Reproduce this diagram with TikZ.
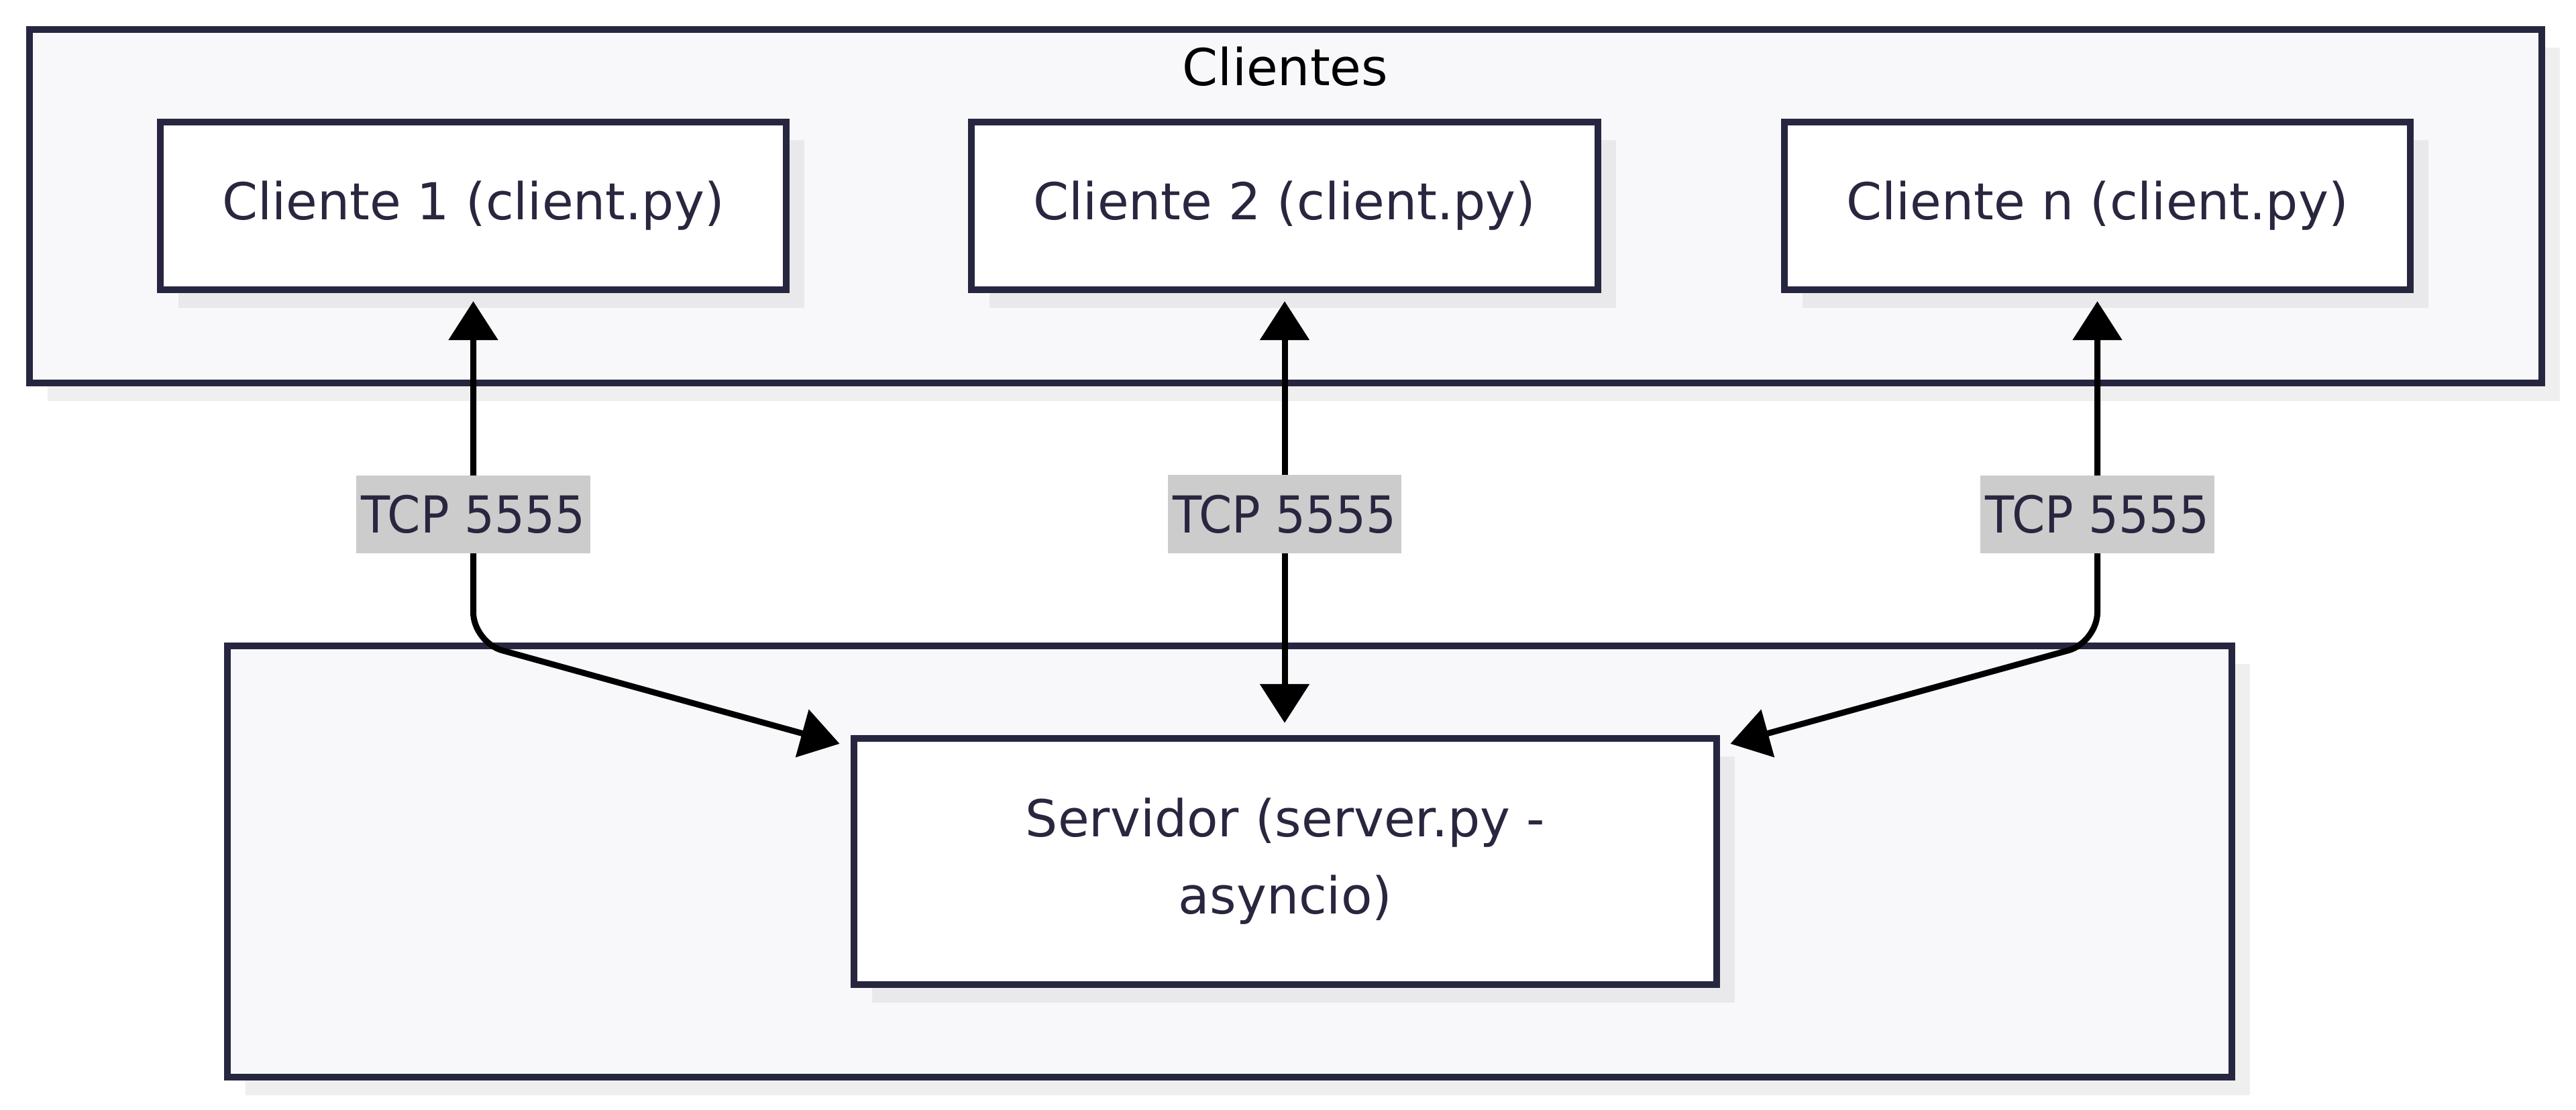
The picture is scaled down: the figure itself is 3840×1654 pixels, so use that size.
\documentclass[tikz,border=0pt]{standalone}
\usepackage{fontspec}
\setmainfont{DejaVu Sans}
\newfontfamily\tcpfont[FakeStretch=0.93]{DejaVu Sans}
\usetikzlibrary{calc,arrows.meta,shadows}

\definecolor{boxline}{HTML}{272640}
\definecolor{txt}{HTML}{2A2640}
\definecolor{grpfill}{HTML}{F8F8FA}
\definecolor{grpshadow}{HTML}{EFEFEF}
\definecolor{boxshadow}{HTML}{E9E9EC}
\definecolor{lblfill}{HTML}{CCCCCC}

\tikzset{
    cluster/.style={draw=boxline, line width=0.1cm, fill=grpfill,
        drop shadow={shadow xshift=0.27cm, shadow yshift=-0.27cm, fill=grpshadow, opacity=1}},
    proc/.style={draw=boxline, line width=0.1cm, fill=white, text=txt, align=center,
        drop shadow={shadow xshift=0.27cm, shadow yshift=-0.27cm, fill=boxshadow, opacity=1}},
    tcp/.style={fill=lblfill, text=txt, font=\tcpfont\fontsize{21.6}{26}\selectfont,
        sharp corners, inner sep=0pt, minimum width=3.48cm, minimum height=1.16cm},
    link/.style={line width=0.09cm, rounded corners=0.45cm,
        {Triangle[length=0.58cm,width=0.72cm]}-{Triangle[length=0.58cm,width=0.72cm]}}
}

\begin{document}
\begin{tikzpicture}[x=0.01cm, y=-0.01cm, font=\fontsize{21.6}{32.7}\selectfont]
    \useasboundingbox (0,0) rectangle (3840,1654);

    % groups
    \node [cluster, minimum width=37.43cm, minimum height=5.27cm] (cgrp) at (1916.5,307.5) {};
    \node [anchor=base, text=black] (ctitle) at (1916,127) {Clientes};
    \node [cluster, minimum width=29.86cm, minimum height=6.43cm] (sgrp) at (1833,1284.5) {};

    % processes
    \node [proc, minimum width=9.33cm, minimum height=2.5cm] (c1) at (705.5,307) {Cliente 1 (client.py)};
    \node [proc, minimum width=9.33cm, minimum height=2.5cm] (c2) at (1915,307) {Cliente 2 (client.py)};
    \node [proc, minimum width=9.33cm, minimum height=2.5cm] (cn) at (3126.5,307) {Cliente n (client.py)};
    \node [proc, minimum width=12.86cm, minimum height=3.67cm] (srv) at (1916,1284.5) {Servidor (server.py -\\asyncio)};

    % connections
    \draw [link, shorten <=0.12cm] (c1.south)
        -- node [tcp, pos=0.633] (t1) {TCP 5555} (c1.south |- sgrp.north)
        -- ($(srv.north west)+(-16,13)$);
    \draw [link, shorten <=0.12cm, shorten >=0.18cm] (c2.south)
        -- node [tcp, pos=0.5] (t2) {TCP 5555} (c2.south |- srv.north);
    \draw [link, shorten <=0.12cm] (cn.south)
        -- node [tcp, pos=0.633] (tn) {TCP 5555} (cn.south |- sgrp.north)
        -- ($(srv.north east)+(15,13)$);
\end{tikzpicture}
\end{document}
